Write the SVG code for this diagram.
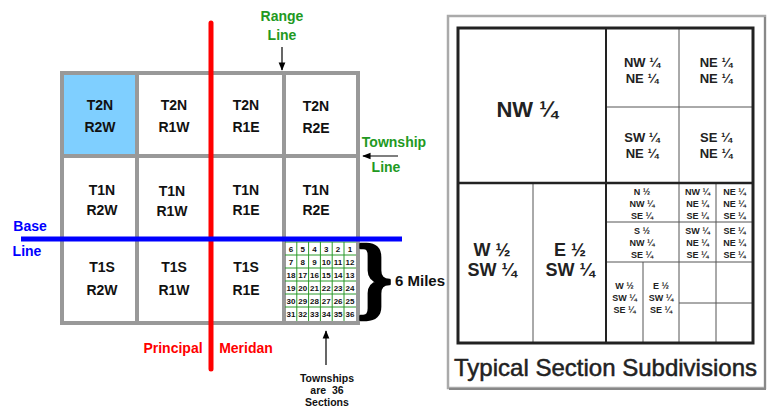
<svg xmlns="http://www.w3.org/2000/svg" width="768" height="408" viewBox="0 0 768 408">
<defs>
<style>
.cell{fill:#fff;stroke:#999;stroke-width:4}
.t{font-family:"Liberation Sans",Arial,sans-serif;font-weight:bold;font-size:14px;fill:#111;text-anchor:middle}
.g{fill:#229922}
.sec{font-family:"Liberation Sans",Arial,sans-serif;font-weight:bold;font-size:8px;fill:#111;text-anchor:middle}
.gl{stroke:#2a9a2a;stroke-width:1;fill:none}
.thin{stroke:#555;stroke-width:1;fill:none}
.q{font-family:"Liberation Sans",Arial,sans-serif;font-weight:bold;fill:#222;text-anchor:middle}
</style>
<marker id="ah" viewBox="0 0 10 10" refX="9" refY="5" markerWidth="7" markerHeight="7" orient="auto-start-reverse">
<path d="M0,1 L10,5 L0,9 Z" fill="#000"/>
</marker>
</defs>
<rect width="768" height="408" fill="#fff"/>

<g id="township-grid">
<g id="c-T2N-R2W"><rect class="cell" x="62" y="73" width="75" height="83" style="fill:#7fcfff"/><text class="t" x="100" y="110">T2N</text><text class="t" x="100" y="132">R2W</text></g>
<g id="c-T2N-R1W"><rect class="cell" x="137" y="73" width="74" height="83"/><text class="t" x="174" y="110">T2N</text><text class="t" x="174" y="132">R1W</text></g>
<g id="c-T2N-R1E"><rect class="cell" x="211" y="73" width="73" height="83"/><text class="t" x="246" y="110">T2N</text><text class="t" x="246" y="132">R1E</text></g>
<g id="c-T2N-R2E"><rect class="cell" x="284" y="73" width="74" height="83"/><text class="t" x="316" y="111">T2N</text><text class="t" x="316" y="133">R2E</text></g>

<g id="c-T1N-R2W"><rect class="cell" x="62" y="156" width="75" height="83"/><text class="t" x="102" y="195">T1N</text><text class="t" x="102" y="215">R2W</text></g>
<g id="c-T1N-R1W"><rect class="cell" x="137" y="156" width="74" height="83"/><text class="t" x="172" y="196">T1N</text><text class="t" x="172" y="216">R1W</text></g>
<g id="c-T1N-R1E"><rect class="cell" x="211" y="156" width="73" height="83"/><text class="t" x="246" y="195">T1N</text><text class="t" x="246" y="215">R1E</text></g>
<g id="c-T1N-R2E"><rect class="cell" x="284" y="156" width="74" height="83"/><text class="t" x="316" y="195">T1N</text><text class="t" x="316" y="215">R2E</text></g>

<g id="c-T1S-R2W"><rect class="cell" x="62" y="239" width="75" height="84"/><text class="t" x="102" y="272">T1S</text><text class="t" x="102" y="295">R2W</text></g>
<g id="c-T1S-R1W"><rect class="cell" x="137" y="239" width="74" height="84"/><text class="t" x="174" y="272">T1S</text><text class="t" x="174" y="295">R1W</text></g>
<g id="c-T1S-R1E"><rect class="cell" x="211" y="239" width="73" height="84"/><text class="t" x="246" y="272">T1S</text><text class="t" x="246" y="295">R1E</text></g>
<g id="c-T1S-R2E"><rect class="cell" x="284" y="239" width="74" height="84"/></g>
</g>

<g id="sections">
<g class="gl">
<path d="M285,242 H356 M285,255 H356 M285,268 H356 M285,281 H356 M285,294 H356 M285,307 H356"/>
<path d="M296.8,242 V321 M308.6,242 V321 M320.4,242 V321 M332.2,242 V321 M344,242 V321"/>
</g>
<g class="sec">
<text x="291" y="251.5">6</text><text x="302.7" y="251.5">5</text><text x="314.5" y="251.5">4</text><text x="326.3" y="251.5">3</text><text x="338.1" y="251.5">2</text><text x="350" y="251.5">1</text>
<text x="291" y="264.5">7</text><text x="302.7" y="264.5">8</text><text x="314.5" y="264.5">9</text><text x="326.3" y="264.5">10</text><text x="338.1" y="264.5">11</text><text x="350" y="264.5">12</text>
<text x="291" y="277.5">18</text><text x="302.7" y="277.5">17</text><text x="314.5" y="277.5">16</text><text x="326.3" y="277.5">15</text><text x="338.1" y="277.5">14</text><text x="350" y="277.5">13</text>
<text x="291" y="290.5">19</text><text x="302.7" y="290.5">20</text><text x="314.5" y="290.5">21</text><text x="326.3" y="290.5">22</text><text x="338.1" y="290.5">23</text><text x="350" y="290.5">24</text>
<text x="291" y="303.5">30</text><text x="302.7" y="303.5">29</text><text x="314.5" y="303.5">28</text><text x="326.3" y="303.5">27</text><text x="338.1" y="303.5">26</text><text x="350" y="303.5">25</text>
<text x="291" y="316.5">31</text><text x="302.7" y="316.5">32</text><text x="314.5" y="316.5">33</text><text x="326.3" y="316.5">34</text><text x="338.1" y="316.5">35</text><text x="350" y="316.5">36</text>
</g>
</g>

<g id="lines">
<line x1="211" y1="23" x2="211" y2="369" stroke="#ff0000" stroke-width="5" stroke-linecap="round"/>
<line x1="21" y1="239" x2="402" y2="239" stroke="#0000ff" stroke-width="5"/>
</g>

<g id="connectors" stroke="#000" stroke-width="1.2" fill="none">
<line x1="282" y1="47" x2="282" y2="70" marker-end="url(#ah)"/>
<line x1="398" y1="156" x2="363" y2="156" marker-end="url(#ah)"/>
<line x1="326" y1="365" x2="326" y2="331" marker-end="url(#ah)"/>
</g>

<g id="labels">
<text class="t g" x="282" y="21">Range</text>
<text class="t g" x="282" y="40">Line</text>
<text class="t g" x="394" y="147">Township</text>
<text class="t g" x="386" y="172">Line</text>
<text class="t" x="30" y="231" style="fill:#0000ff">Base</text>
<text class="t" x="27" y="256" style="fill:#0000ff">Line</text>
<text class="t" x="173" y="353" style="fill:#ff0000">Principal</text>
<text class="t" x="246" y="353" style="fill:#ff0000">Meridan</text>
<text x="357" y="307" font-family="Liberation Serif,serif" font-size="90" font-weight="bold" fill="#000" stroke="#000" stroke-width="2.5" stroke-linejoin="round">}</text>
<text class="t" x="395" y="286" style="text-anchor:start;font-size:15px">6 Miles</text>
<text class="t" x="327" y="382" style="font-size:10.5px">Townships</text>
<text class="t" x="327" y="394" style="font-size:10.5px">are&#160;&#160;36</text>
<text class="t" x="327" y="406" style="font-size:10.5px">Sections</text>
</g>

<g id="section-panel">
<rect x="448" y="16" width="317" height="372" fill="#fff" stroke="#aaa" stroke-width="2.5"/>
<line x1="765" y1="17" x2="765" y2="389" stroke="#888" stroke-width="2"/>
<line x1="449" y1="389" x2="766" y2="389" stroke="#888" stroke-width="2"/>
<g class="thin">
<line x1="606" y1="107" x2="753" y2="107"/>
<line x1="679" y1="28" x2="679" y2="343"/>
<line x1="533" y1="183" x2="533" y2="343"/>
<line x1="606" y1="222" x2="753" y2="222"/>
<line x1="606" y1="262" x2="753" y2="262"/>
<line x1="716" y1="183" x2="716" y2="343"/>
<line x1="643" y1="262" x2="643" y2="343"/>
<line x1="679" y1="303" x2="753" y2="303"/>
</g>
<rect x="458" y="28" width="295" height="315" fill="none" stroke="#222" stroke-width="3"/>
<line x1="606" y1="28" x2="606" y2="343" stroke="#222" stroke-width="2"/>
<line x1="458" y1="183" x2="753" y2="183" stroke="#222" stroke-width="2.5"/>
<text class="q" x="527" y="117" font-size="22">NW ¼</text>
<text class="q" x="642" y="67" font-size="13">NW ¼</text><text class="q" x="642" y="83" font-size="13">NE ¼</text>
<text class="q" x="716" y="67" font-size="13">NE ¼</text><text class="q" x="716" y="83" font-size="13">NE ¼</text>
<text class="q" x="642" y="142" font-size="13">SW ¼</text><text class="q" x="642" y="158" font-size="13">NE ¼</text>
<text class="q" x="716" y="142" font-size="13">SE ¼</text><text class="q" x="716" y="158" font-size="13">NE ¼</text>
<text class="q" x="492" y="256" font-size="18">W ½</text><text class="q" x="492" y="276" font-size="18">SW ¼</text>
<text class="q" x="570" y="256" font-size="18">E ½</text><text class="q" x="570" y="276" font-size="18">SW ¼</text>
<g font-size="9">
<text class="q" x="642" y="195">N ½</text><text class="q" x="642" y="207">NW ¼</text><text class="q" x="642" y="219">SE ¼</text>
<text class="q" x="697.5" y="195">NW ¼</text><text class="q" x="697.5" y="207">NE ¼</text><text class="q" x="697.5" y="219">SE ¼</text>
<text class="q" x="734.5" y="195">NE ¼</text><text class="q" x="734.5" y="207">NE ¼</text><text class="q" x="734.5" y="219">SE ¼</text>
<text class="q" x="642" y="234">S ½</text><text class="q" x="642" y="246">NW ¼</text><text class="q" x="642" y="258">SE ¼</text>
<text class="q" x="697.5" y="234">SW ¼</text><text class="q" x="697.5" y="246">NE ¼</text><text class="q" x="697.5" y="258">SE ¼</text>
<text class="q" x="734.5" y="234">SE ¼</text><text class="q" x="734.5" y="246">NE ¼</text><text class="q" x="734.5" y="258">SE ¼</text>
<text class="q" x="624.5" y="289">W ½</text><text class="q" x="624.5" y="301">SW ¼</text><text class="q" x="624.5" y="313">SE ¼</text>
<text class="q" x="661" y="289">E ½</text><text class="q" x="661" y="301">SW ¼</text><text class="q" x="661" y="313">SE ¼</text>
</g>
<text x="454" y="376" font-family="Liberation Sans,Arial,sans-serif" font-size="24" fill="#222" stroke="#222" stroke-width="0.5" textLength="303" lengthAdjust="spacingAndGlyphs">Typical Section Subdivisions</text>
</g>
</svg>
